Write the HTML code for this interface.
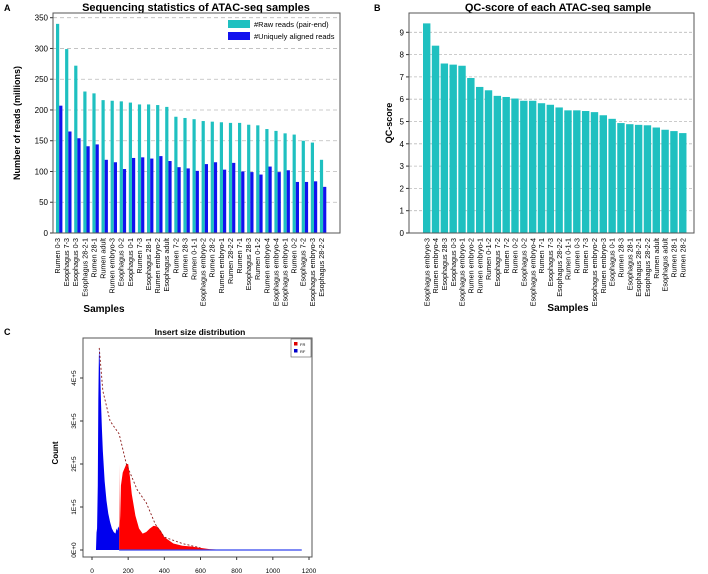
<!DOCTYPE html>
<html><head><meta charset="utf-8"><style>
body{margin:0;background:#fff;}
svg{display:block;font-family:"Liberation Sans",Arial,sans-serif;}
</style></head><body>
<svg id="fig" width="708" height="574" viewBox="0 0 708 574"></svg>
<script>
// Panel A data
const samplesA=["Rumen 0-3","Esophagus 7-3","Esophagus 0-3","Esophagus 28-2-1","Rumen 28-1","Rumen adult","Rumen embryo-3","Esophagus 0-2","Esophagus 0-1","Rumen 7-3","Esophagus 28-1","Rumen embryo-2","Esophagus adult","Rumen 7-2","Rumen 28-3","Rumen 0-1-1","Esophagus embryo-2","Rumen 28-2","Rumen embryo-1","Rumen 28-2-2","Rumen 7-1","Esophagus 28-3","Rumen 0-1-2","Rumen embryo-4","Esophagus embryo-4","Esophagus embryo-1","Rumen 0-2","Esophagus 7-2","Esophagus embryo-3","Esophagus 28-2-2"];
const rawReads=[340,299,272,230,227,216,215,214,212,209,209,208,205,189,187,185,182,181,180,179,179,176,175,169,166,162,160,150,147,119];
const uniqueReads=[207,165,154,141,144,119,115,104,122,123,121,125,117,107,105,101,112,115,103,114,100,99,95,108,99,102,83,83,84,75];
const ticksA=[0,50,100,150,200,250,300,350];
// Panel B data
const samplesB=["Esophagus embryo-3","Rumen embryo-4","Esophagus 28-3","Esophagus 0-3","Esophagus embryo-1","Rumen embryo-2","Rumen embryo-1","Rumen 0-1-2","Esophagus 7-2","Rumen 7-2","Rumen 0-2","Esophagus 0-2","Esophagus embryo-4","Rumen 7-1","Esophagus 7-3","Esophagus 28-2-2","Rumen 0-1-1","Rumen 0-3","Rumen 7-3","Esophagus embryo-2","Rumen embryo-3","Esophagus 0-1","Rumen 28-3","Esophagus 28-1","Esophagus 28-2-1","Esophagus 28-2-2","Rumen adult","Esophagus adult","Rumen 28-1","Rumen 28-2"];
const qcScores=[9.4,8.4,7.6,7.55,7.5,6.95,6.55,6.4,6.15,6.1,6.03,5.93,5.93,5.82,5.75,5.63,5.5,5.5,5.47,5.42,5.28,5.12,4.93,4.88,4.85,4.83,4.73,4.63,4.57,4.48];
const ticksB=[0,1,2,3,4,5,6,7,8,9];
// Panel C data (counts in units of 1E+5)
const rfSize=[22,25,28,32,35,38,40,43,46,50,55,60,70,80,90,100,110,120,130,135,140,145,150];
const rfCount=[0,0.4,0.5,1.5,3.5,4.5,4.7,4.4,4.0,3.4,2.8,2.3,1.6,1.15,0.85,0.65,0.5,0.42,0.38,0.5,0.45,0.55,0.5];
const frSize=[150,151,153,156,160,170,180,190,200,210,220,240,260,280,300,320,340,360,380,400,450,500,550,600,650,700,800,1000,1160];
const frCount=[0.3,2.0,0.5,0.8,1.5,1.8,1.9,2.0,2.0,1.7,1.3,0.8,0.5,0.38,0.42,0.5,0.56,0.55,0.45,0.3,0.15,0.1,0.08,0.05,0.02,0.01,0.005,0.002,0];
const envSize=[40,60,100,150,190,250,300,350,400,500,600];
const envCount=[4.7,3.7,3.0,2.7,2.0,1.4,1.1,0.6,0.3,0.15,0.05];
const ticksCx=[0,200,400,600,800,1000,1200];
const ticksCy=[0,1,2,3,4];

const NS="http://www.w3.org/2000/svg";
const svg=document.getElementById('fig');
function el(tag,attrs,parent,text){const e=document.createElementNS(NS,tag);for(const k in attrs)e.setAttribute(k,attrs[k]);if(text!==undefined)e.textContent=text;(parent||svg).appendChild(e);return e;}

// ---------- Panel A ----------
const A={x0:53,x1:340,y0:13,y1:233};
const yA=v=>A.y1-v*(233-17.7)/350;
const xA=i=>56+i*9.1;
let g=el('g',{});
let t=el('text',{x:4,y:11,'font-size':9,'font-weight':'bold'},g,'A');
t=el('text',{x:196,y:11,'font-size':11,'font-weight':'bold','text-anchor':'middle'},g,'Sequencing statistics of ATAC-seq samples');
ticksA.forEach(v=>{
 if(v>0){const l=el('line',{x1:A.x0,x2:A.x1,y1:yA(v),y2:yA(v),stroke:'#bbb','stroke-dasharray':'4,3','stroke-width':0.8},g);}
 el('line',{x1:A.x0-3,x2:A.x0,y1:yA(v),y2:yA(v),stroke:'#333'},g);
 const tt=el('text',{x:A.x0-5,y:yA(v)+3,'font-size':8,'text-anchor':'end'},g,String(v));
});
rawReads.forEach((v,i)=>{
 const r=el('rect',{x:xA(i),y:yA(v),width:3.2,height:A.y1-yA(v),fill:'#1fc0c0'},g);
 const u=el('rect',{x:xA(i)+3.2,y:yA(uniqueReads[i]),width:3.2,height:A.y1-yA(uniqueReads[i]),fill:'#1212ee'},g);
 const lx=xA(i)+4;
 const lb=el('text',{x:0,y:0,'font-size':7.2,'text-anchor':'end',transform:`translate(${lx},238) rotate(-90)`},g,samplesA[i]);
});
el('rect',{x:A.x0,y:A.y0,width:A.x1-A.x0,height:A.y1-A.y0,fill:'none',stroke:'#555','stroke-width':1},g);
t=el('text',{x:0,y:0,'font-size':9,'font-weight':'bold','text-anchor':'middle',transform:'translate(20,123) rotate(-90)'},g,'Number of reads (millions)');
t=el('text',{x:104,y:312,'font-size':10,'font-weight':'bold','text-anchor':'middle'},g,'Samples');
let lg=el('g',{},g);
el('rect',{x:228,y:20,width:22,height:8,fill:'#1fc0c0'},lg);
el('text',{x:254,y:27,'font-size':7.5},lg,'#Raw reads (pair-end)');
el('rect',{x:228,y:32,width:22,height:8,fill:'#1212ee'},lg);
el('text',{x:254,y:39,'font-size':7.5},lg,'#Uniquely aligned reads');

// ---------- Panel B ----------
const B={x0:409,x1:694,y0:13,y1:233};
const yB=v=>B.y1-v*(233-32.3)/9;
const xB=i=>423+i*8.83;
g=el('g',{});
t=el('text',{x:374,y:11,'font-size':9,'font-weight':'bold'},g,'B');
t=el('text',{x:558,y:11,'font-size':11,'font-weight':'bold','text-anchor':'middle'},g,'QC-score of each ATAC-seq sample');
ticksB.forEach(v=>{
 if(v>0){const l=el('line',{x1:B.x0,x2:B.x1,y1:yB(v),y2:yB(v),stroke:'#bbb','stroke-dasharray':'3,2','stroke-width':0.8},g);}
 el('line',{x1:B.x0-3,x2:B.x0,y1:yB(v),y2:yB(v),stroke:'#333'},g);
 const tt=el('text',{x:B.x0-5,y:yB(v)+3,'font-size':8,'text-anchor':'end'},g,String(v));
});
qcScores.forEach((v,i)=>{
 const r=el('rect',{x:xB(i),y:yB(v),width:7.4,height:B.y1-yB(v),fill:'#1fc0c0'},g);
 const lb=el('text',{x:0,y:0,'font-size':7.2,'text-anchor':'end',transform:`translate(${xB(i)+6.3},238) rotate(-90)`},g,samplesB[i]);
});
el('rect',{x:B.x0,y:B.y0,width:B.x1-B.x0,height:B.y1-B.y0,fill:'none',stroke:'#555','stroke-width':1},g);
t=el('text',{x:0,y:0,'font-size':9,'font-weight':'bold','text-anchor':'middle',transform:'translate(392,123) rotate(-90)'},g,'QC-score');
t=el('text',{x:568,y:311,'font-size':10,'font-weight':'bold','text-anchor':'middle'},g,'Samples');

// ---------- Panel C ----------
const C={x0:83,x1:312,y0:338,y1:557};
const xC=v=>92+v*(309-92)/1200;
const yC=v=>550-v*(550-378)/4;
g=el('g',{});
t=el('text',{x:4,y:335,'font-size':9,'font-weight':'bold'},g,'C');
t=el('text',{x:200,y:335,'font-size':8.5,'font-weight':'bold','text-anchor':'middle'},g,'Insert size distribution');
function area(sz,ct){let d=`M${xC(sz[0])},${yC(0)}`;sz.forEach((s,i)=>d+=`L${xC(s)},${yC(ct[i])}`);d+=`L${xC(sz[sz.length-1])},${yC(0)}Z`;return d;}
let p=el('path',{d:area(frSize,frCount),fill:'#ff0000'},g);
p=el('path',{d:area(rfSize,rfCount),fill:'#0000ee'},g);
p=el('line',{x1:xC(150),x2:xC(1160),y1:yC(0),y2:yC(0),stroke:'#3344ee','stroke-width':1.2},g);
let d='';envSize.forEach((s,i)=>d+=(i?'L':'M')+xC(s)+','+yC(envCount[i]));
p=el('path',{d:d,fill:'none',stroke:'#8b1a1a','stroke-dasharray':'2,2','stroke-width':0.9},g);
el('rect',{x:C.x0,y:C.y0,width:C.x1-C.x0,height:C.y1-C.y0,fill:'none',stroke:'#555','stroke-width':1},g);
ticksCx.forEach(v=>{
 el('line',{x1:xC(v),x2:xC(v),y1:C.y1,y2:C.y1+3,stroke:'#333'},g);
 const tt=el('text',{x:xC(v),y:573,'font-size':6.5,'text-anchor':'middle'},g,String(v));
});
ticksCy.forEach(v=>{
 el('line',{x1:C.x0-3,x2:C.x0,y1:yC(v),y2:yC(v),stroke:'#333'},g);
 const tt=el('text',{x:0,y:0,'font-size':6.5,'text-anchor':'middle',transform:`translate(76,${yC(v)}) rotate(-90)`},g,v+'E+'+(v?5:0));
});
t=el('text',{x:0,y:0,'font-size':8,'font-weight':'bold','text-anchor':'middle',transform:'translate(58,453) rotate(-90)'},g,'Count');
lg=el('g',{},g);
el('rect',{x:291,y:339,width:20,height:18,fill:'#fff',stroke:'#555','stroke-width':0.6},lg);
el('rect',{x:294,y:342,width:3.5,height:3.5,fill:'#dd0000'},lg);
el('text',{x:300,y:346,'font-size':4},lg,'FR');
el('rect',{x:294,y:349,width:3.5,height:3.5,fill:'#0000cc'},lg);
el('text',{x:300,y:353,'font-size':4},lg,'RF');
</script>
</body></html>
